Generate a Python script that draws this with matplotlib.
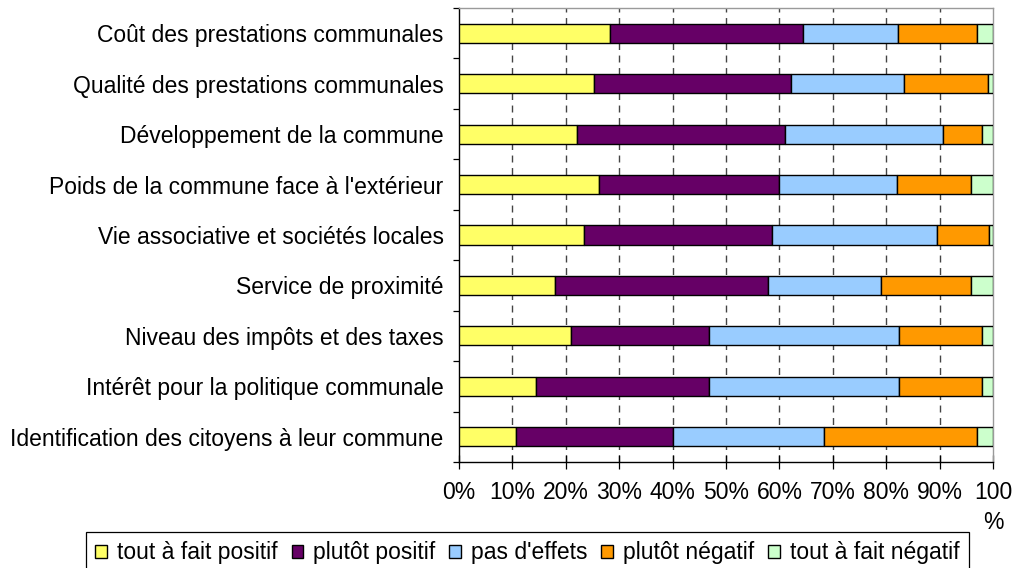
import numpy as np
import matplotlib
matplotlib.use('Agg')
import matplotlib.pyplot as plt

plt.rcParams['font.family'] = ['Liberation Sans', 'DejaVu Sans']

categories = [
    'Coût des prestations communales',
    'Qualité des prestations communales',
    'Développement de la commune',
    "Poids de la commune face à l'extérieur",
    'Vie associative et sociétés locales',
    'Service de proximité',
    'Niveau des impôts et des taxes',
    'Intérêt pour la politique communale',
    'Identification des citoyens à leur commune',
]
series_names = ['tout à fait positif', 'plutôt positif', "pas d'effets",
                'plutôt négatif', 'tout à fait négatif']
colors = ['#FFFF66', '#660066', '#99CCFF', '#FF9900', '#CCFFCC']

# percentages per category
tout_positif = [28.2, 25.2, 22.1, 26.3, 23.4, 17.9, 21.0, 14.5, 10.6]
plutot_positif = [36.2, 36.9, 39.0, 33.6, 35.3, 39.9, 25.9, 32.4, 29.5]
pas_effets = [17.9, 21.2, 29.5, 22.2, 30.8, 21.2, 35.5, 35.5, 28.3]
plutot_negatif = [14.7, 15.8, 7.4, 13.7, 9.7, 16.8, 15.6, 15.6, 28.6]
tout_negatif = [3.0, 0.9, 2.0, 4.2, 0.8, 4.2, 2.0, 2.0, 3.0]

tick_labels = ['0%', '10%', '20%', '30%', '40%', '50%', '60%', '70%', '80%',
               '90%', '100\n%']

series = [tout_positif, plutot_positif, pas_effets, plutot_negatif, tout_negatif]

fig = plt.figure(figsize=(10.15, 5.68), dpi=100)
ax = fig.add_axes([459 / 1015, 1 - 462 / 568, 534 / 1015, 454 / 568])

y = np.arange(len(categories))
left = np.zeros(len(categories))
handles = []
for name, vals, col in zip(series_names, series, colors):
    b = ax.barh(y, vals, left=left, height=0.38, color=col,
                edgecolor='black', linewidth=1.0, label=name, zorder=3)
    handles.append(b)
    left += np.array(vals)

ax.set_xlim(0, 100)
ax.set_ylim(len(categories) - 0.5, -0.5)

ax.set_xticks(np.arange(0, 101, 10))
ax.set_xticklabels(tick_labels, fontsize=16.5)
for lab in ax.get_xticklabels():
    lab.set_linespacing(1.35)
ax.tick_params(axis='x', direction='inout', length=10, width=0.9, pad=9,
               colors='black')

ax.set_yticks(y)
ax.set_yticklabels(categories, fontsize=16.5)
ax.tick_params(axis='y', which='major', length=0, pad=11)
ax.set_yticks(np.arange(-0.5, len(categories), 1), minor=True)
ax.tick_params(axis='y', which='minor', direction='out', length=4, width=0.9)

for xv in range(10, 100, 10):
    ax.axvline(xv, color='#444444', linewidth=1.0, dashes=(5, 4), zorder=1)

ax.spines['left'].set_color('black')
ax.spines['bottom'].set_color('black')
ax.spines['top'].set_color('#9a9a9a')
ax.spines['right'].set_color('#9a9a9a')
for s in ax.spines.values():
    s.set_linewidth(1.0)

leg = fig.legend(handles=handles, labels=series_names, loc='upper center',
                 bbox_to_anchor=(527.5 / 1015, 1 - 532 / 568), ncol=5,
                 fontsize=16.5, frameon=True, fancybox=False, shadow=False,
                 borderaxespad=0, handlelength=0.5, handleheight=0.5,
                 handletextpad=0.45, columnspacing=0.6, borderpad=0.4)
leg.get_frame().set_edgecolor('black')
leg.get_frame().set_linewidth(0.9)
leg.get_frame().set_alpha(1)

fig.savefig('out.png', dpi=100)
